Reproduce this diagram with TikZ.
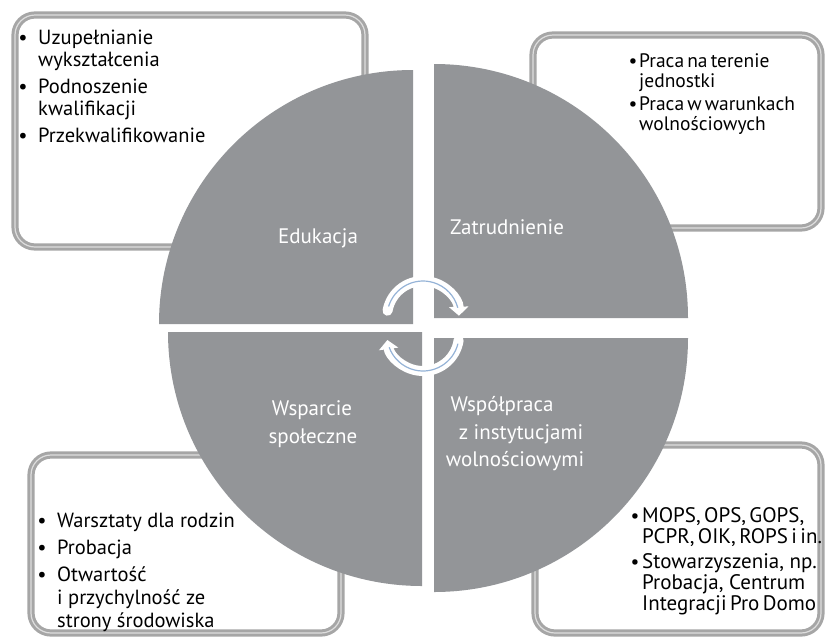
\documentclass[tikz,border=0pt]{standalone}
\usepackage{fontspec}
\setmainfont{PT Sans}
\usetikzlibrary{arrows.meta}
\definecolor{quad}{RGB}{147,149,152}
\definecolor{bord}{RGB}{166,166,166}
\definecolor{bordin}{RGB}{222,222,222}
\definecolor{arrblue}{RGB}{149,179,215}
\newcommand{\tightsp}{\spaceskip=0.16em\relax}
\begin{document}
\begin{tikzpicture}[x=1pt,y=-1pt,
  panel/.style={draw=bord, double=bordin, double distance=1.2pt, line width=3pt, rounded corners=20pt, fill=white},
  quadfill/.style={fill=quad},
  cyc/.style={draw=white, line width=10pt, line cap=round, -{Triangle[length=9pt,width=19pt]}},
  cycblue/.style={draw=arrblue, line width=1.2pt},
  txtA/.style={anchor=base west, inner sep=0pt, font=\fontsize{20.5}{22}\selectfont},
  txtB/.style={anchor=base west, inner sep=0pt, font=\fontsize{19.5}{20}\selectfont},
  txtC/.style={anchor=base west, inner sep=0pt, font=\fontsize{21}{20}\selectfont},
  bulA/.style={anchor=base, inner sep=0pt, font=\fontsize{20.5}{22}\selectfont},
  bulB/.style={anchor=base, inner sep=0pt, font=\fontsize{19.5}{20}\selectfont},
  lab/.style={anchor=base, inner sep=0pt, text=white, font=\fontsize{21}{22}\selectfont}
]
\useasboundingbox (0,0) rectangle (825,638);
\fill[white] (0,0) rectangle (825,638);

% corner panels
\path[panel] (15,15) rectangle (365,247);
\path[panel] (533,35) rectangle (821,228);
\path[panel] (31,455) rectangle (341,633);
\path[panel] (535,445) rectangle (821,633);

% quadrants
\fill[quadfill] (413,324) -- (159,324) arc[start angle=180, end angle=270, radius=254] -- cycle;
\fill[quadfill] (434,318) -- (434,64) arc[start angle=270, end angle=360, radius=254] -- cycle;
\fill[quadfill] (434,338) -- (688,338) arc[start angle=0, end angle=90, radius=254] -- cycle;
\fill[quadfill] (422,332) -- (422,586) arc[start angle=90, end angle=180, radius=254] -- cycle;

% circular arrows
\coordinate (ctop) at (423,317);
\coordinate (cbot) at (423,335);
\draw[cyc] (ctop) ++(190:36) arc[start angle=190, end angle=358, radius=36];
\draw[cycblue] (ctop) ++(197:36) arc[start angle=197, end angle=345, radius=36];
\draw[cyc] (cbot) ++(8:36) arc[start angle=8, end angle=172, radius=36];
\draw[cycblue] (cbot) ++(14:36) arc[start angle=14, end angle=160, radius=36];

% top-left panel text
\node[bulA] (tlb1) at (23,44) {•};
\node[txtA] (tl1) at (38,44) {Uzupełnianie};
\node[txtA] (tl2) at (38,66) {wykształcenia};
\node[bulA] (tlb2) at (23,93) {•};
\node[txtA] (tl3) at (38,93) {Podnoszenie};
\node[txtA] (tl4) at (38,115) {kwalifikacji};
\node[bulA] (tlb3) at (23,142) {•};
\node[txtA] (tl5) at (38,142) {Przekwalifikowanie};

% top-right panel text
\node[bulB] (trb1) at (633,67) {•};
\node[txtB] (tr1) at (639,67) {\tightsp Praca na terenie};
\node[txtB] (tr2) at (639,87) {jednostki};
\node[bulB] (trb2) at (633,110) {•};
\node[txtB] (tr3) at (639,110) {\tightsp Praca w warunkach};
\node[txtB] (tr4) at (639,130) {wolnościowych};

% bottom-left panel text
\node[bulA] (blb1) at (42,527) {•};
\node[txtA] (bl1) at (57,527) {Warsztaty dla rodzin};
\node[bulA] (blb2) at (42,554) {•};
\node[txtA] (bl2) at (57,554) {Probacja};
\node[bulA] (blb3) at (42,581) {•};
\node[txtA] (bl3) at (57,581) {Otwartość};
\node[txtA] (bl4) at (57,604) {i przychylność ze};
\node[txtA] (bl5) at (57,627) {strony środowiska};

% bottom-right panel text
\node[bulB] (brb1) at (635,522) {•};
\node[txtC] (br1) at (642,522) {\tightsp MOPS, OPS, GOPS,};
\node[txtC] (br2) at (642,543) {\tightsp PCPR, OIK, ROPS i in.};
\node[bulB] (brb2) at (635,568) {•};
\node[txtC] (br3) at (642,568) {Stowarzyszenia, np.};
\node[txtC] (br4) at (642,589) {Probacja, Centrum};
\node[txtC] (br5) at (642,610) {\tightsp Integracji Pro Domo};

% quadrant labels
\node[lab] (edu) at (318,243) {Edukacja};
\node[lab] (zat) at (507,234) {Zatrudnienie};
\node[lab] (wsp1) at (312,415) {Wsparcie};
\node[lab] (wsp2) at (313,443) {społeczne};
\node[lab] (wsl1) at (502,411) {Współpraca};
\node[lab] (wsl2) at (521,439) {z instytucjami};
\node[lab] (wsl3) at (515,466) {wolnościowymi};
\end{tikzpicture}
\end{document}
